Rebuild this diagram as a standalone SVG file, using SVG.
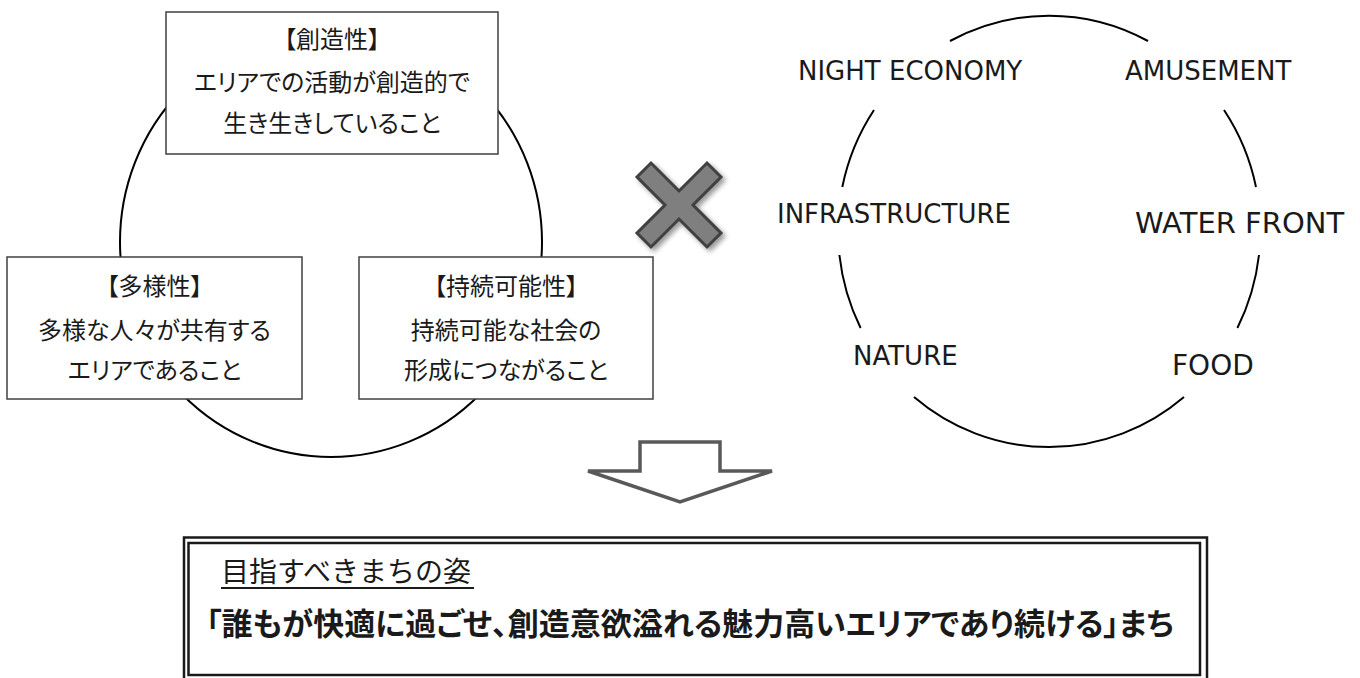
<svg xmlns="http://www.w3.org/2000/svg" width="1360" height="678" viewBox="0 0 1360 678">
<style>
.box{fill:#fff;stroke:#404040;stroke-width:1.5}
.jp{font-family:"Noto Sans CJK JP","Noto Sans CJK SC",sans-serif;font-size:24px;fill:#1a1a1a;text-anchor:middle;font-feature-settings:"palt"}
.en{font-family:"DejaVu Sans","Liberation Sans",sans-serif;fill:#1a1a1a}
.ring{fill:none;stroke:#000;stroke-width:2}
.frame{fill:none;stroke:#1a1a1a;stroke-width:2.5}
</style>
<defs>
<filter id="sh" x="-20%" y="-20%" width="150%" height="150%">
<feDropShadow dx="3" dy="3" stdDeviation="2.5" flood-color="#000" flood-opacity="0.4"/>
</filter>
</defs>

<g id="connectors">
<ellipse class="ring" cx="331" cy="242" rx="211" ry="215"/>
<path class="ring" d="M950 41 A211 216.5 0 0 1 1148 41"/>
<path class="ring" d="M1224 110 A211 216.5 0 0 1 1256 187"/>
<path class="ring" d="M1259 255 A211 216.5 0 0 1 1237.4 328"/>
<path class="ring" d="M1184 397 A211 216.5 0 0 1 914 397"/>
<path class="ring" d="M860.6 328 A211 216.5 0 0 1 839.4 255"/>
<path class="ring" d="M842.3 187 A211 216.5 0 0 1 874 110"/>
</g>

<g id="node-creativity">
<rect class="box" x="166" y="12" width="332" height="142"/>
<text class="jp" x="332" y="48">【創造性】</text>
<text class="jp" x="332" y="91">エリアでの活動が創造的で</text>
<text class="jp" x="332" y="132">生き生きしていること</text>
</g>

<g id="node-diversity">
<rect class="box" x="7" y="257" width="295" height="142"/>
<text class="jp" x="154.5" y="295">【多様性】</text>
<text class="jp" x="154.5" y="339">多様な人々が共有する</text>
<text class="jp" x="154.5" y="379">エリアであること</text>
</g>

<g id="node-sustainability">
<rect class="box" x="359" y="257" width="294" height="142"/>
<text class="jp" x="506" y="295">【持続可能性】</text>
<text class="jp" x="506" y="339">持続可能な社会の</text>
<text class="jp" x="506" y="379">形成につながること</text>
</g>

<g id="node-cross">
<polygon points="679,191 707,163 721,177 693,205 721,233 707,247 679,219 651,247 637,233 665,205 637,177 651,163" fill="#7f7f7f" stroke="#404040" stroke-width="3" stroke-linejoin="miter" filter="url(#sh)"/>
</g>

<g id="node-night-economy"><text class="en" x="798" y="80" font-size="26">NIGHT ECONOMY</text></g>
<g id="node-amusement"><text class="en" x="1125" y="80" font-size="26">AMUSEMENT</text></g>
<g id="node-infrastructure"><text class="en" x="777" y="223" font-size="26">INFRASTRUCTURE</text></g>
<g id="node-water-front"><text class="en" x="1135" y="233" font-size="29">WATER FRONT</text></g>
<g id="node-nature"><text class="en" x="853" y="365" font-size="26">NATURE</text></g>
<g id="node-food"><text class="en" x="1172" y="375" font-size="28">FOOD</text></g>

<g id="node-arrow">
<polygon points="640,442 720,442 720,471 772,471 680,502 588,471 640,471" fill="#fff" stroke="#595959" stroke-width="3.5" stroke-linejoin="miter"/>
</g>

<g id="node-vision">
<rect class="frame" x="184" y="537.5" width="1023" height="160"/>
<rect class="frame" x="188.5" y="543" width="1011.5" height="132"/>
<text x="221" y="582" style="font-family:'Noto Sans CJK JP','Noto Sans CJK SC',sans-serif;font-size:28px;fill:#1a1a1a">目指すべきまちの姿</text>
<line x1="221" y1="588" x2="474" y2="588" stroke="#1a1a1a" stroke-width="2"/>
<text class="jp" x="206" y="635" style="text-anchor:start;font-weight:bold;font-size:31px">「誰もが快適に過ごせ、創造意欲溢れる魅力高いエリアであり続ける」まち</text>
</g>
</svg>
